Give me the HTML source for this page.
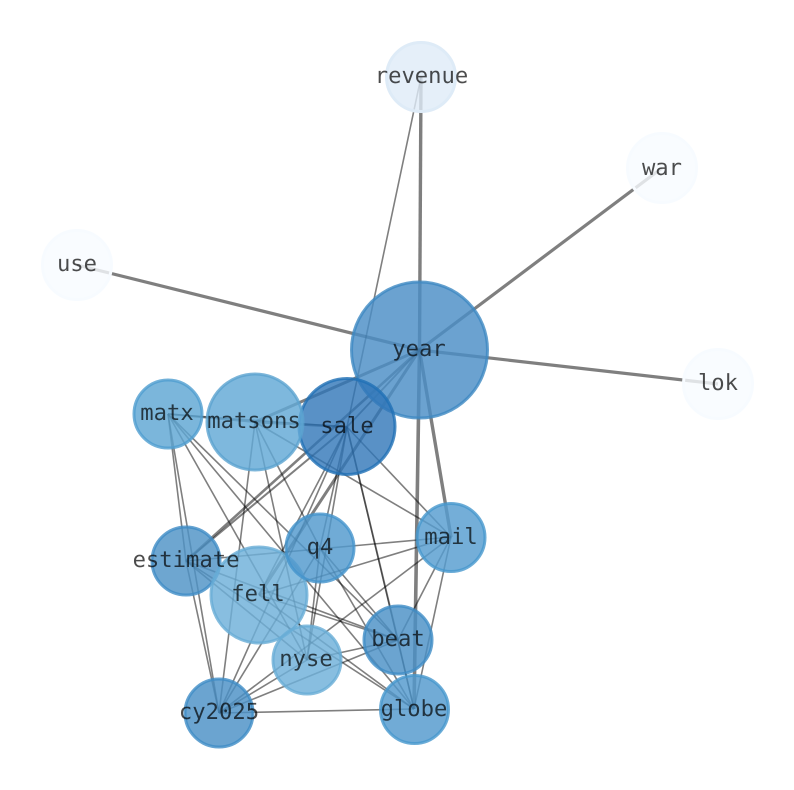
<!DOCTYPE html>
<html><head><meta charset="utf-8">
<style>
html,body{margin:0;padding:0;background:#fff}
svg{display:block}
text{font-family:"DejaVu Sans Mono","Liberation Mono",monospace;font-size:22.2px;text-anchor:middle;fill:#000;fill-opacity:.7;text-rendering:geometricPrecision}
.e line{stroke:#000;stroke-opacity:.5;stroke-width:1.6}
.n circle{stroke-width:3}
</style></head>
<body>
<svg width="794" height="790" viewBox="0 0 794 790" xmlns="http://www.w3.org/2000/svg">
<g class="e">
<!-- year -->
<line x1="419.5" y1="350" x2="421" y2="77" style="stroke-width:3.4"/>
<line x1="419.5" y1="350" x2="662" y2="168" style="stroke-width:3.2"/>
<line x1="419.5" y1="350" x2="77" y2="265" style="stroke-width:3.2"/>
<line x1="419.5" y1="350" x2="718" y2="384" style="stroke-width:3.2"/>
<line x1="419.5" y1="350" x2="255" y2="422" style="stroke-width:3"/>
<line x1="419.5" y1="350" x2="347" y2="427" style="stroke-width:1.8"/>
<line x1="419.5" y1="350" x2="186" y2="561" style="stroke-width:2.6"/>
<line x1="419.5" y1="350" x2="259" y2="595" style="stroke-width:3"/>
<line x1="419.5" y1="350" x2="414" y2="709" style="stroke-width:3.6"/>
<line x1="419.5" y1="350" x2="451" y2="537" style="stroke-width:3.4"/>
<line x1="421" y1="77" x2="347" y2="427"/>
<!-- sale -->
<line x1="347" y1="427" x2="255" y2="422" style="stroke-width:2.4"/>
<line x1="347" y1="427" x2="168" y2="414"/>
<line x1="347" y1="427" x2="186" y2="561" style="stroke-width:2"/>
<line x1="347" y1="427" x2="259" y2="595"/>
<line x1="347" y1="427" x2="320" y2="548"/>
<line x1="347" y1="427" x2="307" y2="660"/>
<line x1="347" y1="427" x2="219" y2="713"/>
<line x1="347" y1="427" x2="398" y2="640" style="stroke-width:1.8;stroke-opacity:.42"/>
<line x1="347" y1="427" x2="414" y2="709"/>
<line x1="347" y1="427" x2="451" y2="537"/>
<!-- matsons -->
<line x1="255" y1="422" x2="320" y2="548"/>
<line x1="255" y1="422" x2="307" y2="660"/>
<line x1="255" y1="422" x2="219" y2="713"/>
<line x1="255" y1="422" x2="451" y2="537"/>
<line x1="255" y1="422" x2="168" y2="414" style="stroke-width:2"/>
<!-- matx -->
<line x1="168" y1="414" x2="186" y2="561"/>
<line x1="168" y1="414" x2="219" y2="713"/>
<line x1="168" y1="414" x2="307" y2="660"/>
<line x1="168" y1="414" x2="398" y2="640"/>
<line x1="168" y1="414" x2="414" y2="709"/>
<!-- estimate -->
<line x1="186" y1="561" x2="451" y2="537"/>
<line x1="186" y1="561" x2="307" y2="660"/>
<line x1="186" y1="561" x2="398" y2="640"/>
<line x1="186" y1="561" x2="414" y2="709"/>
<line x1="186" y1="561" x2="219" y2="713"/>
<!-- fell -->
<line x1="259" y1="595" x2="451" y2="537"/>
<line x1="259" y1="595" x2="398" y2="640"/>
<line x1="259" y1="595" x2="414" y2="709"/>
<!-- q4 -->
<line x1="320" y1="548" x2="398" y2="640"/>
<line x1="320" y1="548" x2="414" y2="709"/>
<line x1="320" y1="548" x2="307" y2="660"/>
<line x1="320" y1="548" x2="219" y2="713"/>
<!-- mail -->
<line x1="451" y1="537" x2="398" y2="640"/>
<line x1="451" y1="537" x2="414" y2="709"/>
<line x1="451" y1="537" x2="219" y2="713"/>
<!-- rest -->
<line x1="398" y1="640" x2="307" y2="660"/>
<line x1="398" y1="640" x2="219" y2="713"/>
<line x1="398" y1="640" x2="414" y2="709"/>
<line x1="307" y1="660" x2="219" y2="713"/>
<line x1="219" y1="713" x2="414" y2="709"/>
</g>
<g class="n">
<circle cx="419.5" cy="350" r="68" fill="#4a8ec6" fill-opacity=".82" stroke="#3d88c2" stroke-opacity=".8"/>
<circle cx="421" cy="77" r="34.5" fill="#deebf7" fill-opacity=".8" stroke="#deebf7"/>
<circle cx="662" cy="168" r="34.5" fill="#f7fbff" fill-opacity=".8" stroke="#f7fbff"/>
<circle cx="77" cy="265" r="34.5" fill="#f7fbff" fill-opacity=".8" stroke="#f7fbff"/>
<circle cx="718" cy="384" r="34.5" fill="#f7fbff" fill-opacity=".8" stroke="#f7fbff"/>
<circle cx="347" cy="426.5" r="48" fill="#2f76b8" fill-opacity=".8" stroke="#2171b5" stroke-opacity=".8"/>
<circle cx="255" cy="422" r="48" fill="#62a8d5" fill-opacity=".82" stroke="#5ba3d0" stroke-opacity=".8"/>
<circle cx="168" cy="414" r="34" fill="#5ea6d3" fill-opacity=".82" stroke="#4f9ed0" stroke-opacity=".8"/>
<circle cx="186" cy="561" r="34" fill="#4e93c6" fill-opacity=".82" stroke="#3f8cc5" stroke-opacity=".8"/>
<circle cx="259" cy="595" r="48" fill="#6eb0d9" fill-opacity=".82" stroke="#68acd6" stroke-opacity=".8"/>
<circle cx="320" cy="548" r="34" fill="#5099cd" fill-opacity=".82" stroke="#4494cc" stroke-opacity=".8"/>
<circle cx="451" cy="537.5" r="34" fill="#559ccf" fill-opacity=".82" stroke="#4697cd" stroke-opacity=".8"/>
<circle cx="398" cy="640" r="34" fill="#4a90c6" fill-opacity=".82" stroke="#3f8cc5" stroke-opacity=".8"/>
<circle cx="307" cy="660" r="34" fill="#6eb0d9" fill-opacity=".82" stroke="#68acd6" stroke-opacity=".8"/>
<circle cx="414.5" cy="709.5" r="34" fill="#5299cd" fill-opacity=".82" stroke="#4697cd" stroke-opacity=".8"/>
<circle cx="219" cy="713" r="34" fill="#4a90c6" fill-opacity=".82" stroke="#3f8cc5" stroke-opacity=".8"/>
</g>
<g>
<text x="421.5" y="83">revenue</text>
<text x="662" y="175">war</text>
<text x="77" y="271">use</text>
<text x="718" y="390">lok</text>
<text x="419" y="356">year</text>
<text x="347" y="433">sale</text>
<text x="254" y="428">matsons</text>
<text x="167" y="420">matx</text>
<text x="186" y="567">estimate</text>
<text x="258" y="601">fell</text>
<text x="320" y="554">q4</text>
<text x="451" y="544">mail</text>
<text x="398" y="646">beat</text>
<text x="306" y="666">nyse</text>
<text x="414" y="716">globe</text>
<text x="219" y="719">cy2025</text>
</g>
</svg>
</body></html>
